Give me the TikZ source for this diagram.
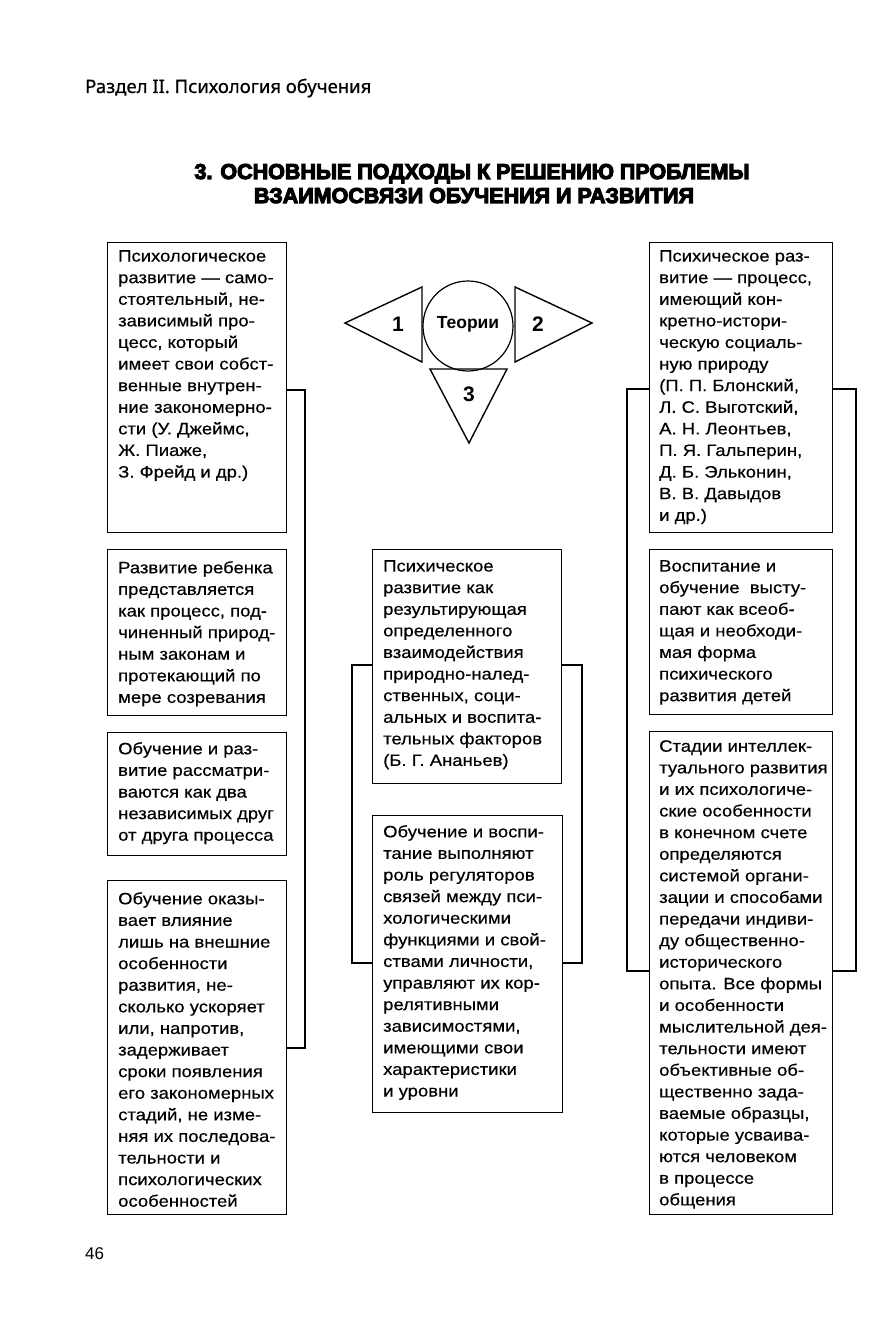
\documentclass[tikz,border=0pt]{standalone}
\usepackage{fontspec}
\setmainfont{Liberation Sans}
\newfontfamily\bodyfont[FakeStretch=1.12,FakeBold=0.4]{Liberation Sans}
\newfontfamily\headfont[FakeBold=0.6]{Noto Sans}
\newfontfamily\titlefont[FakeBold=5]{Liberation Sans}
\begin{document}
\begin{tikzpicture}[x=1pt,y=-1pt,
  box/.style={draw, line width=1.3pt, inner sep=0pt, anchor=north west},
  txt/.style={anchor=north west, inner sep=0pt, align=left, font=\bodyfont\fontsize{16.5}{21.6}\selectfont},
  link/.style={line width=1.1pt},
  tri/.style={line width=1.4pt, line join=miter},
  lbl/.style={inner sep=0pt, font=\bfseries\fontsize{21}{24}\selectfont}]
\useasboundingbox (0,0) rectangle (884,1332);
\fill[white] (0,0) rectangle (884,1332);

% header
\node[anchor=base west, inner sep=0pt, font=\headfont\fontsize{18.5}{22}\selectfont] (head) at (85,93) {Раздел II. Психология обучения};
\node[anchor=base, inner sep=0pt, font=\titlefont\bfseries\fontsize{21.5}{24}\selectfont] (title1) at (472,179) {3. ОСНОВНЫЕ ПОДХОДЫ К РЕШЕНИЮ ПРОБЛЕМЫ};
\node[anchor=base, inner sep=0pt, font=\titlefont\bfseries\fontsize{21.5}{24}\selectfont] (title2) at (474,203) {ВЗАИМОСВЯЗИ ОБУЧЕНИЯ И РАЗВИТИЯ};

% theories
\node[draw, circle, line width=1.2pt, minimum size=90pt, inner sep=0pt] (theo) at (468,326) {};
\node[inner sep=0pt, font=\bfseries\fontsize{17.5}{20}\selectfont] (theot) at (468,324) {Теории};
\draw[tri] (345,323) -- (422,287) -- (422,362) -- cycle;
\draw[tri] (515,287) -- (592,323) -- (515,362) -- cycle;
\draw[tri] (430,369) -- (507,369) -- (469,443) -- cycle;
\node[lbl] (n1) at (398,324) {1};
\node[lbl] (n2) at (538,324) {2};
\node[lbl] (n3) at (469,394) {3};

% left column
\node[box, minimum width=179pt, minimum height=290pt] (L1) at (107,242) {};
\node[box, minimum width=179pt, minimum height=166pt] (L2) at (107,549) {};
\node[box, minimum width=179pt, minimum height=123pt] (L3) at (107,732) {};
\node[box, minimum width=179pt, minimum height=334pt] (L4) at (107,880) {};
\node[txt] (L1t) at (118,250) {Психологическое\\развитие — само-\\стоятельный, не-\\зависимый про-\\цесс, который\\имеет свои собст-\\венные внутрен-\\ние закономерно-\\сти (У. Джеймс,\\Ж. Пиаже,\\З. Фрейд и др.)};
\node[txt] (L2t) at (118,561) {Развитие ребенка\\представляется\\как процесс, под-\\чиненный природ-\\ным законам и\\протекающий по\\мере созревания};
\node[txt] (L3t) at (118,742) {Обучение и раз-\\витие рассматри-\\ваются как два\\независимых друг\\от друга процесса};
\node[txt] (L4t) at (118,892) {Обучение оказы-\\вает влияние\\лишь на внешние\\особенности\\развития, не-\\сколько ускоряет\\или, напротив,\\задерживает\\сроки появления\\его закономерных\\стадий, не изме-\\няя их последова-\\тельности и\\психологических\\особенностей};
\draw[link] (L1.east |- 0,390) -| (305,1048) -- (L4.east |- 0,1048);

% middle column
\node[box, minimum width=189pt, minimum height=234pt] (M1) at (372,549) {};
\node[box, minimum width=190pt, minimum height=297pt] (M2) at (372,815) {};
\node[txt] (M1t) at (383,560) {Психическое\\развитие как\\результирующая\\определенного\\взаимодействия\\природно-налед-\\ственных, соци-\\альных и воспита-\\тельных факторов\\(Б. Г. Ананьев)};
\node[txt] (M2t) at (383,825) {Обучение и воспи-\\тание выполняют\\роль регуляторов\\связей между пси-\\хологическими\\функциями и свой-\\ствами личности,\\управляют их кор-\\релятивными\\зависимостями,\\имеющими свои\\характеристики\\и уровни};
\draw[link] (M1.west |- 0,665) -| (352,963) -- (M2.west |- 0,963);
\draw[link] (M1.east |- 0,665) -| (582,963) -- (M2.east |- 0,963);

% right column
\node[box, minimum width=183pt, minimum height=290pt] (R1) at (649,242) {};
\node[box, minimum width=183pt, minimum height=165pt] (R2) at (649,549) {};
\node[box, minimum width=183pt, minimum height=483pt] (R3) at (649,731) {};
\node[txt] (R1t) at (659,250) {Психическое раз-\\витие — процесс,\\имеющий кон-\\кретно-истори-\\ческую социаль-\\ную природу\\(П. П. Блонский,\\Л. С. Выготский,\\А. Н. Леонтьев,\\П. Я. Гальперин,\\Д. Б. Эльконин,\\В. В. Давыдов\\и др.)};
\node[txt] (R2t) at (659,560) {Воспитание и\\обучение \ высту-\\пают как всеоб-\\щая и необходи-\\мая форма\\психического\\развития детей};
\node[txt] (R3t) at (659,740) {Стадии интеллек-\\туального развития\\и их психологиче-\\ские особенности\\в конечном счете\\определяются\\системой органи-\\зации и способами\\передачи индиви-\\ду общественно-\\исторического\\опыта. Все формы\\и особенности\\мыслительной дея-\\тельности имеют\\объективные об-\\щественно зада-\\ваемые образцы,\\которые усваива-\\ются человеком\\в процессе\\общения};
\draw[link] (R1.west |- 0,389) -| (627,971) -- (R3.west |- 0,971);
\draw[link] (R1.east |- 0,389) -| (856,971) -- (R3.east |- 0,971);

% page number
\node[anchor=base west, inner sep=0pt, font=\fontsize{17}{20}\selectfont] (page) at (85,1259) {46};
\end{tikzpicture}
\end{document}
